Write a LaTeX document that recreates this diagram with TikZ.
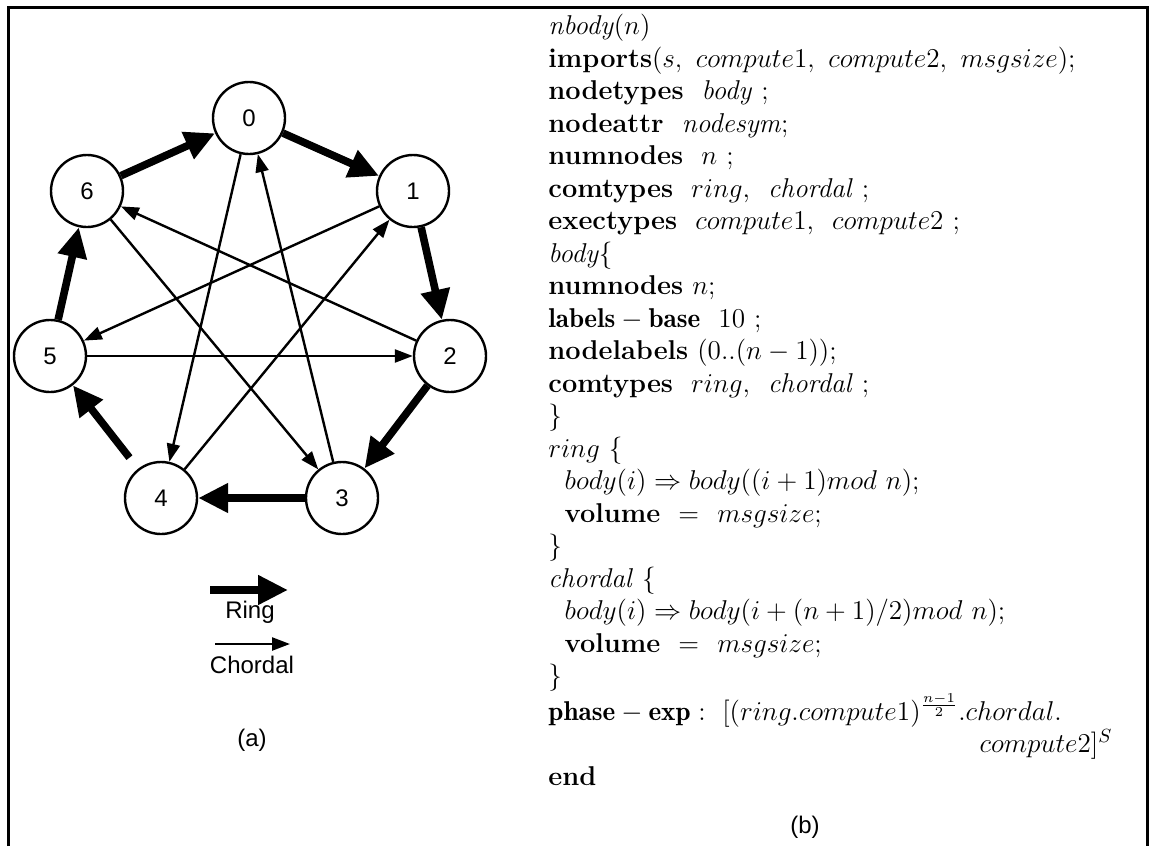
\RequirePackage{fix-cm}
\documentclass[tikz,border=0pt]{standalone}
\usepackage{fontspec}
\newfontfamily\helv{Liberation Sans}
\usetikzlibrary{arrows.meta}

\begin{document}
\begin{tikzpicture}[x=0.5pt,y=-0.5pt,
  pnode/.style={circle,draw,line width=1.2pt,minimum size=36pt,inner sep=0pt,
    font=\helv\fontsize{12}{14}\selectfont},
  ringarr/.style={line width=3.8pt,-{Triangle[length=15pt,width=14pt]}},
  chordarr/.style={line width=1.2pt,-{Triangle[length=9pt,width=6.5pt]}},
  lbl/.style={inner sep=0pt,font=\helv\fontsize{12}{14}\selectfont}]
\useasboundingbox (0,0) rectangle (1151,846);
\draw[line width=1.5pt] (8,846) -- (8,7) -- (1147,7) -- (1147,846);

\node[pnode] (n0) at (249,118) {0};
\node[pnode] (n1) at (413,191) {1};
\node[pnode] (n2) at (450,356) {2};
\node[pnode] (n3) at (342,498) {3};
\node[pnode] (n4) at (161,498) {4};
\node[pnode] (n5) at (50,356) {5};
\node[pnode] (n6) at (87,191) {6};

\draw[ringarr] (n0) -- (n1);
\draw[ringarr] (n1) -- (n2);
\draw[ringarr] (n2) -- (n3);
\draw[ringarr] (n3) -- (n4);
\draw[ringarr,shorten <=7pt] (n4) -- (n5);
\draw[ringarr] (n5) -- (n6);
\draw[ringarr] (n6) -- (n0);

\draw[chordarr] (n0) -- (n4);
\draw[chordarr] (n1) -- (n5);
\draw[chordarr] (n2) -- (n6);
\draw[chordarr] (n3) -- (n0);
\draw[chordarr] (n4) -- (n1);
\draw[chordarr] (n5) -- (n2);
\draw[chordarr] (n6) -- (n3);

\coordinate (rs) at (210,590);
\coordinate (re) at (288,590);
\draw[ringarr] (rs) -- (re);
\node[lbl] (ringlbl) at (250,612) {Ring};
\coordinate (cs) at (215,644);
\coordinate (ce) at (290,644);
\draw[chordarr] (cs) -- (ce);
\node[lbl] (chordlbl) at (252,665) {Chordal};
\node[lbl] (capa) at (252,740) {(a)};
\node[lbl] (capb) at (805,827) {(b)};

\node[anchor=north west,inner sep=0pt,text width=282pt,align=left,
  font=\fontsize{13.6}{16.25}\selectfont] (code) at (548,14) {%
\textit{nbody}$(n)$\\
\textbf{imports}$(s,\ compute1,\ compute2,\ msgsize)$;\\
\textbf{nodetypes}\ \ \textit{body} ;\\
\textbf{nodeattr}\ \ \textit{nodesym};\\
\textbf{numnodes}\ \ $n$ ;\\
\textbf{comtypes}\ \ $ring$,\ \ \textit{chordal} ;\\
\textbf{exectypes}\ \ $compute1$,\ \ $compute2$ ;\\
\textit{body}\{\\
\textbf{numnodes} $n$;\\
$\mathbf{labels}-\mathbf{base}$\ \ 10 ;\\
\textbf{nodelabels} $(0..(n-1))$;\\
\textbf{comtypes}\ \ $ring$,\ \ \textit{chordal} ;\\
\}\\
$ring$ \{\\
\hspace*{0.6em}$body(i)\Rightarrow body((i+1)mod\ n)$;\\
\hspace*{0.6em}\textbf{volume}\ \ $=$\ \ $msgsize$;\\
\}\\
\textit{chordal} \{\\
\hspace*{0.6em}$body(i)\Rightarrow body(i+(n+1)/2)mod\ n)$;\\
\hspace*{0.6em}\textbf{volume}\ \ $=$\ \ $msgsize$;\\
\}\\
$\mathbf{phase}-\mathbf{exp}:\ [(ring.compute1)^{\frac{n-1}{2}}.chordal.$\\
\hspace*{\fill}$compute2]^S$\\
\textbf{end}};
\end{tikzpicture}
\end{document}
